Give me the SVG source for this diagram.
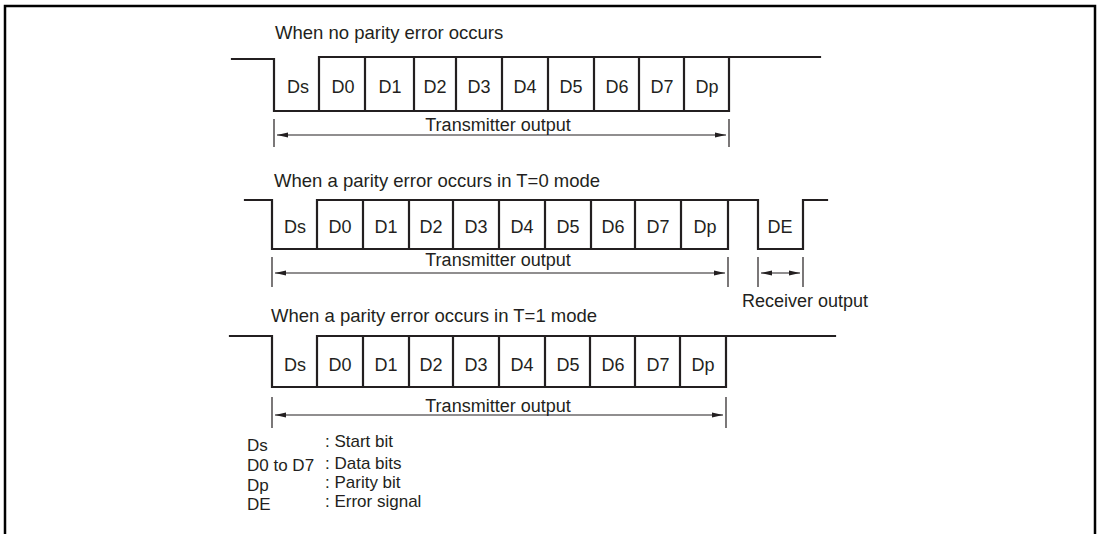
<svg xmlns="http://www.w3.org/2000/svg" width="1100" height="534" viewBox="0 0 1100 534">
<style>
text{font-family:"Liberation Sans",Arial,Helvetica,sans-serif;font-size:18px;fill:#231f20}
.c{text-anchor:middle}
.h{font-size:18.5px}
.cell{font-size:17px}
.lg{font-size:17px}
.w{fill:none;stroke:#231f20;stroke-width:2.2;stroke-linejoin:miter;stroke-linecap:square}
.t{fill:none;stroke:#231f20;stroke-width:1.2}
.a{fill:none;stroke:#231f20;stroke-width:1.2;marker-end:url(#ah);marker-start:url(#ah)}
.f{fill:none;stroke:#000;stroke-width:2.5}
</style>
<defs>
<marker id="ah" markerUnits="userSpaceOnUse" markerWidth="11" markerHeight="6" refX="11" refY="3" orient="auto-start-reverse">
<path d="M0,0.6 L11,3 L0,5.4 z" fill="#231f20"/>
</marker>
</defs>
<rect width="1100" height="534" fill="#fff"/>
<path class="f" d="M5,540 V6 H1095 V540"/>

<g id="row1">
<text class="h" x="275" y="39">When no parity error occurs</text>
<path class="w" d="M232,59 H274 V111 H729 M319,111 V57 H820 M365,57 V111 M414,57 V111 M456,57 V111 M502,57 V111 M548,57 V111 M594,57 V111 M639,57 V111 M684,57 V111 M729,57 V111"/>
<g class="c cell">
<text x="298" y="93">Ds</text><text x="343" y="93">D0</text><text x="390" y="93">D1</text><text x="435" y="93">D2</text><text x="479" y="93">D3</text><text x="525" y="93">D4</text><text x="571" y="93">D5</text><text x="617" y="93">D6</text><text x="662" y="93">D7</text><text x="707" y="93">Dp</text>
</g>
<text class="c" x="498" y="131">Transmitter output</text>
</g>

<g id="row2">
<text class="h" x="274" y="187">When a parity error occurs in T=0 mode</text>
<path class="w" d="M245,200 H272 V249 H728 M317,249 V200 H758 V249 H803 V200 H827 M363,200 V249 M409,200 V249 M453,200 V249 M499,200 V249 M545,200 V249 M591,200 V249 M635,200 V249 M681,200 V249 M728,200 V249"/>
<g class="c cell">
<text x="295" y="233">Ds</text><text x="340" y="233">D0</text><text x="386" y="233">D1</text><text x="431" y="233">D2</text><text x="476" y="233">D3</text><text x="522" y="233">D4</text><text x="568" y="233">D5</text><text x="613" y="233">D6</text><text x="658" y="233">D7</text><text x="705" y="233">Dp</text><text x="780" y="233">DE</text>
</g>
<text class="c" x="498" y="266">Transmitter output</text>
<text x="742" y="307">Receiver output</text>
</g>

<g id="row3">
<text class="h" x="271" y="322">When a parity error occurs in T=1 mode</text>
<path class="w" d="M230,336 H272 V387 H726 M317,387 V336 H835 M363,336 V387 M409,336 V387 M453,336 V387 M499,336 V387 M545,336 V387 M590,336 V387 M635,336 V387 M680,336 V387 M726,336 V387"/>
<g class="c cell">
<text x="295" y="371">Ds</text><text x="340" y="371">D0</text><text x="386" y="371">D1</text><text x="431" y="371">D2</text><text x="476" y="371">D3</text><text x="522" y="371">D4</text><text x="568" y="371">D5</text><text x="613" y="371">D6</text><text x="658" y="371">D7</text><text x="703" y="371">Dp</text>
</g>
<text class="c" x="498" y="412">Transmitter output</text>
</g>

<g id="connectors">
<path class="t" d="M274,119 V147 M729,119 V147 M272,257 V287 M728,257 V287 M758,257 V287 M803,257 V287 M272,397 V428 M726,397 V428"/>
<path class="a" d="M277,135 H726"/>
<path class="a" d="M275,273 H725"/>
<path class="a" d="M761,273 H800"/>
<path class="a" d="M275,415 H723"/>
</g>

<g id="legend" class="lg">
<text class="lg" x="247" y="451">Ds</text><text class="lg" x="325" y="447">: Start bit</text>
<text class="lg" x="247" y="471">D0 to D7</text><text class="lg" x="325" y="469">: Data bits</text>
<text class="lg" x="247" y="491">Dp</text><text class="lg" x="325" y="488">: Parity bit</text>
<text class="lg" x="247" y="510">DE</text><text class="lg" x="325" y="507">: Error signal</text>
</g>
</svg>
